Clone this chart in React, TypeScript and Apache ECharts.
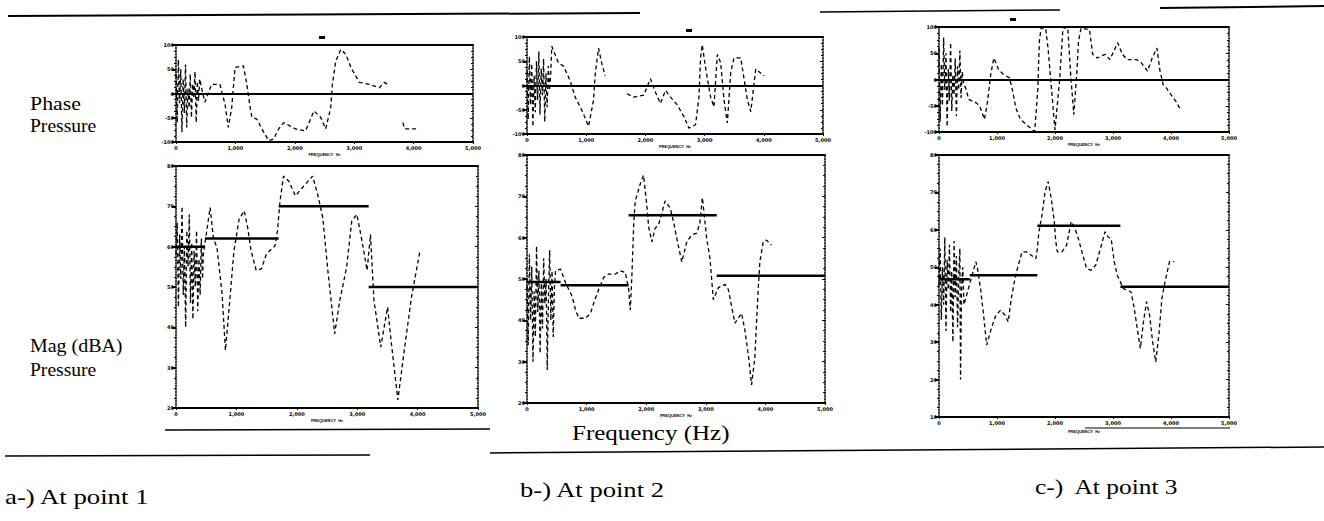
import React, { useEffect, useRef } from "react";
import * as echarts from "echarts";

// ---------- data (frequency Hz, value) ----------
const freqTicks = [0, 1000, 2000, 3000, 4000, 5000];

const aPhaseCurve: (number | null)[][] = [
  [0, 40], [20, -60], [40, 70], [60, -20], [80, 50], [100, -80], [120, 30], [140, -40], [160, 60], [180, -70],
  [200, 10], [220, -30], [240, 40], [260, -50], [280, 20], [300, -10], [320, 45], [340, -60], [360, 25], [380, -15],
  [400, 30], [429, 12], [486, -18], [599, 19], [740, 19], [768, 5], [825, -22], [881, -70], [938, -29], [994, 54],
  [1136, 57], [1192, 19], [1249, -29], [1277, -49], [1362, -53], [1446, -73], [1559, -97], [1644, -94], [1729, -73],
  [1814, -60], [2012, -73], [2181, -77], [2323, -36], [2435, -49], [2520, -73], [2605, -29], [2633, 19], [2690, 67],
  [2774, 91], [2859, 81], [2944, 54], [3085, 23], [3255, 19], [3424, 12], [3509, 23], [3594, 16], [3700, null],
  [3820, -60], [3850, -73], [4074, -73],
];

const aMagCurve: (number | null)[][] = [
  [0, 58], [20, 66], [40, 45], [60, 63], [80, 52], [100, 70], [120, 48], [140, 60], [160, 40], [180, 64],
  [200, 55], [220, 68], [240, 46], [260, 61], [280, 42], [300, 59], [320, 50], [340, 64], [360, 44], [380, 57],
  [400, 48], [420, 62], [440, 52], [452, 58], [565, 69.7], [620, 62], [678, 59.8], [763, 48.3], [819, 34.3],
  [876, 44.2], [960, 59], [1045, 66.8], [1130, 68.9], [1186, 64.8], [1243, 59], [1328, 54.1], [1413, 54.5],
  [1497, 58.2], [1639, 60.2], [1680, 64], [1723, 71.4], [1780, 77.5], [1865, 76.3], [1978, 72.6], [2091, 74.6],
  [2261, 77.5], [2345, 73], [2430, 67.2], [2514, 54.1], [2627, 38.4], [2712, 46.7], [2825, 54.9], [2910, 66.4],
  [2994, 68], [3079, 61.5], [3164, 54.1], [3220, 63], [3277, 46.7], [3390, 35.1], [3503, 45], [3560, 36.8],
  [3673, 22], [3786, 35.1], [3899, 47.5], [4040, 59],
];
const aMagStepEdges = [0, 480, 1700, 3190, 5000];
const aMagStepLevels = [60, 62, 70, 50];

const bPhaseCurve: (number | null)[][] = [
  [0, 30], [20, -70], [40, 60], [60, -40], [80, 45], [100, -85], [120, 20], [140, -55], [160, 50], [180, -30],
  [200, 70], [220, -60], [240, 35], [260, -20], [280, 55], [300, -75], [320, 25], [340, -45], [360, 40], [380, -10],
  [400, 20], [418, 81], [531, 47], [616, 40], [729, 10], [814, -24], [927, -51], [1040, -84], [1124, -30],
  [1153, 24], [1209, 77], [1266, 44], [1322, 20], [1500, null], [1690, -17], [1803, -24], [1972, -20], [2085, 14],
  [2170, -14], [2254, -37], [2339, -10], [2424, -24], [2537, -40], [2650, -64], [2735, -88], [2847, -81],
  [2904, -24], [2932, 57], [2960, 84], [3017, 36], [3102, -24], [3158, -44], [3215, 64], [3271, 47], [3328, -30],
  [3384, -77], [3441, 27], [3497, 57], [3610, 57], [3723, -30], [3780, -54], [3864, 34], [4006, 20],
];

const bMagCurve: (number | null)[][] = [
  [0, 50], [20, 34], [40, 56], [60, 40], [80, 53], [100, 30], [120, 47], [140, 36], [160, 58], [180, 42],
  [200, 52], [220, 32], [240, 49], [260, 38], [280, 55], [300, 44], [320, 50], [340, 28], [360, 46], [380, 57],
  [400, 40], [420, 52], [440, 36], [460, 48], [479, 52], [563, 52.4], [646, 49.1], [758, 45.8], [814, 42.5],
  [869, 40.5], [981, 40.5], [1065, 41.7], [1120, 44.2], [1204, 47.5], [1288, 50.4], [1371, 51.2], [1483, 51.2],
  [1566, 52], [1650, 51.6], [1706, 47.5], [1733, 42.5], [1761, 51.2], [1790, 63.1], [1817, 68.9], [1900, 73],
  [1956, 75.1], [2012, 67.6], [2040, 62.7], [2095, 59], [2151, 62.3], [2207, 63.1], [2318, 68.9], [2402, 67.2],
  [2458, 63.9], [2514, 59.8], [2597, 54.1], [2681, 59], [2764, 60.7], [2848, 61.1], [2900, 63.5], [2943, 69.7],
  [3015, 59.8], [3071, 54.9], [3126, 45], [3210, 47.9], [3322, 48.7], [3377, 47.5], [3433, 43.4], [3489, 39.3],
  [3600, 41.7], [3656, 37.6], [3712, 31.8], [3768, 24.4], [3823, 31], [3851, 39.3], [3879, 47.5], [3907, 54.1],
  [3963, 59], [4018, 59.4], [4102, 58.2],
];
const bMagStepEdges = [0, 563, 1705, 3183, 5000];
const bMagStepLevels = [49.3, 48.5, 65.4, 50.8];

const cPhaseCurve: (number | null)[][] = [
  [0, 60], [20, -80], [40, 30], [60, -50], [80, 80], [100, -20], [120, 50], [140, -90], [160, 20], [180, -40],
  [200, 70], [220, -60], [240, 10], [260, -30], [280, 40], [300, -70], [320, 25], [340, -20], [360, 55], [380, -35],
  [400, 15], [430, -10], [459, -16], [514, -38], [649, -45], [703, -51], [784, -76], [838, -41], [892, 10],
  [946, 41], [1027, 19], [1108, 10], [1216, 3], [1270, -22], [1324, -54], [1405, -76], [1540, -89], [1649, -99],
  [1703, -20], [1730, 73], [1760, 98], [1838, 98], [1880, 60], [2000, -96], [2080, 0], [2135, 95], [2162, 98],
  [2220, 100], [2270, 10], [2324, -67], [2378, 16], [2405, 73], [2450, 98], [2595, 95], [2649, 48], [2730, 41],
  [2865, 48], [2946, 38], [3081, 70], [3162, 48], [3243, 38], [3405, 38], [3486, 32], [3595, 16], [3676, 41],
  [3757, 60], [3811, 16], [3865, -10], [3919, -16], [4000, -29], [4081, -41], [4162, -57],
];

const cMagCurve: (number | null)[][] = [
  [0, 45], [20, 55], [40, 36], [60, 50], [80, 40], [100, 58], [120, 33], [140, 52], [160, 44], [180, 56],
  [200, 38], [220, 49], [240, 30], [260, 57], [280, 42], [300, 53], [320, 34], [340, 48], [360, 55], [371, 20],
  [390, 45], [410, 50], [430, 40], [636, 51.5], [663, 49.7], [716, 44.3], [769, 37.2], [822, 29.2], [901, 33.6],
  [981, 37.2], [1060, 38.5], [1140, 37.2], [1193, 35.4], [1246, 41.6], [1299, 46.1], [1352, 49.7], [1431, 54.1],
  [1511, 54.1], [1590, 53.2], [1670, 52.3], [1696, 55], [1723, 59.5], [1776, 64], [1829, 70.2], [1882, 72.9],
  [1935, 68.4], [1988, 62.2], [2014, 56.8], [2041, 54.1], [2120, 54.1], [2200, 55.9], [2279, 62.2], [2332, 60.8],
  [2385, 58.6], [2465, 54.1], [2544, 49.7], [2624, 49.2], [2703, 50.6], [2783, 55], [2862, 59.5], [2915, 58.1],
  [2968, 57.7], [3021, 51.5], [3074, 47.9], [3127, 46.1], [3180, 44.3], [3313, 43.4], [3366, 39], [3419, 33.6],
  [3472, 28.3], [3525, 35.4], [3578, 40.8], [3631, 37.2], [3684, 30], [3737, 24.7], [3790, 31.8], [3843, 41.6],
  [3896, 46.1], [3975, 51.5], [4055, 51.5],
];
const cMagStepEdges = [0, 530, 1696, 3127, 5000];
const cMagStepLevels = [46.8, 47.9, 61.1, 44.8];

const phaseRange = [-100, 100, 50];
const magRangeAB = [20, 80, 10];
const magRangeC = [10, 80, 10];

// ---------- layout ----------
type Panel = {
  left: number; top: number; width: number; height: number;
  curve: (number | null)[][]; range: number[]; phase: boolean;
  edges?: number[]; levels?: number[];
};

const panels: Panel[] = [
  { left: 176, top: 45, width: 297, height: 97, curve: aPhaseCurve, range: phaseRange, phase: true },
  { left: 176, top: 166, width: 302, height: 242, curve: aMagCurve, range: magRangeAB, phase: false, edges: aMagStepEdges, levels: aMagStepLevels },
  { left: 527, top: 37, width: 296, height: 97, curve: bPhaseCurve, range: phaseRange, phase: true },
  { left: 527, top: 155, width: 298, height: 248, curve: bMagCurve, range: magRangeAB, phase: false, edges: bMagStepEdges, levels: bMagStepLevels },
  { left: 939, top: 27, width: 290, height: 105, curve: cPhaseCurve, range: phaseRange, phase: true },
  { left: 939, top: 155, width: 290, height: 262, curve: cMagCurve, range: magRangeC, phase: false, edges: cMagStepEdges, levels: cMagStepLevels },
];

function stepData(edges: number[], levels: number[]) {
  const out: (number | null)[][] = [];
  levels.forEach((lv, i) => {
    out.push([edges[i], lv]);
    out.push([edges[i + 1], lv]);
    if (i < levels.length - 1) out.push([(edges[i + 1] + 1), null]);
  });
  return out;
}

export default function App() {
  const ref = useRef<HTMLDivElement>(null);
  useEffect(() => {
    if (!ref.current) return;
    const chart = echarts.init(ref.current, null, { renderer: "svg" });
    const grid: any[] = [];
    const xAxis: any[] = [];
    const yAxis: any[] = [];
    const series: any[] = [];
    panels.forEach((p, i) => {
      grid.push({ left: p.left, top: p.top, width: p.width, height: p.height, containLabel: false });
      const common = { type: "value", gridIndex: i, min: freqTicks[0], max: freqTicks[freqTicks.length - 1], interval: 1000 };
      xAxis.push({
        ...common,
        position: "bottom",
        axisLine: { show: true, onZero: false, lineStyle: { color: "#000", width: 2 } },
        axisTick: { show: true, length: 2, lineStyle: { color: "#000" } },
        axisLabel: { fontSize: 5, fontWeight: "bold", color: "#000", margin: 3, fontFamily: "DejaVu Sans" },
        splitLine: { show: false },
        name: "FREQUENCY  Hz",
        nameLocation: "middle",
        nameGap: 10,
        nameTextStyle: { fontSize: 4, fontWeight: "bold", color: "#000" },
      });
      xAxis.push({
        ...common,
        position: "top",
        axisLine: { show: true, onZero: false, lineStyle: { color: "#000", width: 2 } },
        axisTick: { show: false },
        axisLabel: { show: false },
        splitLine: { show: false },
      });
      const [mn, mx, iv] = p.range;
      const yc = { type: "value", gridIndex: i, min: mn, max: mx, interval: iv };
      yAxis.push({
        ...yc,
        position: "left",
        axisLine: { show: true, onZero: false, lineStyle: { color: "#000", width: 1.5, type: "dotted" } },
        axisTick: { show: true, inside: false, length: 4, lineStyle: { color: "#000", width: 2 } },
        minorTick: { show: true, splitNumber: 4, length: 2, lineStyle: { color: "#000" } },
        axisLabel: { fontSize: 5, fontWeight: "bold", color: "#000", margin: 2, fontFamily: "DejaVu Sans" },
        splitLine: { show: false },
      });
      yAxis.push({
        ...yc,
        position: "right",
        axisLine: { show: true, onZero: false, lineStyle: { color: "#000", width: 1.5, type: "dotted" } },
        axisTick: { show: true, inside: true, length: 3, lineStyle: { color: "#000" } },
        minorTick: { show: true, splitNumber: 4, length: 2, lineStyle: { color: "#000" } },
        axisLabel: { show: false },
        splitLine: { show: false },
      });
      const curveSeries: any = {
        type: "line",
        xAxisIndex: 2 * i,
        yAxisIndex: 2 * i,
        data: p.curve,
        showSymbol: false,
        connectNulls: false,
        lineStyle: { color: "#000", width: 1.3, type: [4, 3] },
        z: 3,
      };
      if (p.phase) {
        curveSeries.markLine = {
          silent: true,
          symbol: ["none", "none"],
          label: { show: false },
          lineStyle: { color: "#000", width: 2, type: "solid" },
          data: [{ yAxis: 0 }],
        };
      }
      series.push(curveSeries);
      if (p.edges && p.levels) {
        series.push({
          type: "line",
          xAxisIndex: 2 * i,
          yAxisIndex: 2 * i,
          data: stepData(p.edges, p.levels),
          showSymbol: false,
          connectNulls: false,
          lineStyle: { color: "#000", width: 2.5, type: "solid" },
          z: 4,
        });
      }
    });

    const serif = "'Liberation Serif', 'Times New Roman', serif";
    const txt = (x: number, y: number, text: string, size: number, sx = 1) => ({
      type: "text",
      x,
      y,
      scaleX: sx,
      style: { text, fontSize: size, fontFamily: serif, fill: "#000", textVerticalAlign: "middle" },
    });
    const ln = (x1: number, y1: number, x2: number, y2: number, w: number) => ({
      type: "line",
      shape: { x1, y1, x2, y2 },
      style: { stroke: "#000", lineWidth: w },
    });
    const blob = (x: number, y: number) => ({
      type: "rect",
      shape: { x, y, width: 6, height: 3 },
      style: { fill: "#000" },
    });

    chart.setOption({
      animation: false,
      backgroundColor: "#fff",
      grid,
      xAxis,
      yAxis,
      series,
      graphic: [
        txt(30, 104, "Phase", 19, 1.15),
        txt(30, 126, "Pressure", 19, 1.03),
        txt(30, 346, "Mag (dBA)", 19, 1.05),
        txt(30, 370, "Pressure", 19, 1.03),
        txt(572, 433, "Frequency (Hz)", 20, 1.25),
        txt(5, 497, "a-) At point 1", 20, 1.34),
        txt(520, 490, "b-) At point 2", 20, 1.33),
        txt(1035, 487, "c-)  At point 3", 20, 1.27),
        ln(8, 16, 640, 13, 2),
        ln(820, 12, 1060, 10, 1.5),
        ln(1160, 8, 1324, 6, 2),
        ln(165, 430, 490, 429, 1.5),
        ln(5, 456, 370, 455, 1.5),
        ln(490, 453, 1324, 447, 1.5),
        ln(1085, 428, 1230, 428, 1),
        blob(319, 36),
        blob(686, 29),
        blob(1010, 18),
      ],
    });
    return () => chart.dispose();
  }, []);
  return (
    <div
      ref={ref}
      style={{ position: "absolute", left: 0, top: 0, width: 1324, height: 521, background: "#fff" }}
    />
  );
}
